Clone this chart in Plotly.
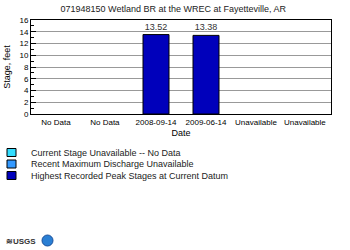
import plotly.graph_objects as go

categories = ["No Data", "No Data ", "2008-09-14", "2009-06-14", "Unavailable", "Unavailable "]
peak_values = [None, None, 13.52, 13.38, None, None]
peak_labels = ["", "", "13.52", "13.38", "", ""]
y_ticks = [0, 2, 4, 6, 8, 10, 12, 14, 16]
legend_names = ["Current Stage Unavailable -- No Data",
                "Recent Maximum Discharge Unavailable",
                "Highest Recorded Peak Stages at Current Datum"]
legend_colors = ["#33DDFF", "#3399FF", "#0000BB"]

FONT = "Liberation Sans, Arial, sans-serif"

fig = go.Figure()
fig.add_trace(go.Bar(
    x=categories, y=peak_values, text=peak_labels, textposition="outside",
    textfont=dict(size=9, color="#333333", family=FONT), cliponaxis=False,
    marker=dict(color="#0000BB", line=dict(color="black", width=1)),
    width=0.52, showlegend=False,
))

fig.update_layout(
    width=350, height=250,
    margin=dict(l=31, r=19, t=20, b=136),
    paper_bgcolor="white", plot_bgcolor="white",
    font=dict(family=FONT, size=8, color="black"),
    title=dict(text="071948150 Wetland BR at the WREC at Fayetteville, AR",
               x=0.495, xanchor="center", y=0.965, yanchor="middle",
               font=dict(size=9, family=FONT, color="#222222")),
    xaxis=dict(type="category", automargin=False, showline=True, linecolor="black", linewidth=1, mirror=True,
               ticks="", tickfont=dict(size=8), tickangle=0,
               title=dict(text="Date", font=dict(size=9), standoff=4)),
    yaxis=dict(range=[0, 16], automargin=False, tickvals=y_ticks, showgrid=True, gridcolor="#999999", gridwidth=1,
               showline=True, linecolor="black", linewidth=1, mirror=True,
               ticks="inside", ticklen=5, tickcolor="black",
               minor=dict(dtick=1, ticks="inside", ticklen=3, tickcolor="black"),
               tickfont=dict(size=8), title=dict(text="Stage, feet", font=dict(size=9), standoff=7)),
)

# legend drawn below the chart
row_y = [152.5, 164, 175.5]
for name, col, yy in zip(legend_names, legend_colors, row_y):
    fig.add_shape(type="rect", xref="paper", yref="paper",
                  x0=(7 - 31) / 300, x1=(16 - 31) / 300,
                  y0=(114 - (yy + 4)) / 94, y1=(114 - (yy - 4)) / 94,
                  fillcolor=col, line=dict(color="black", width=1))
    fig.add_annotation(text=name, xref="paper", yref="paper",
                       x=(29 - 31) / 300, y=(114 - yy) / 94, xanchor="left", yanchor="middle",
                       showarrow=False, font=dict(size=9, color="#222222", family=FONT))

# logos
fig.add_annotation(text="<b>≋USGS</b>", xref="paper", yref="paper",
                   x=(4 - 31) / 300, y=(114 - 241) / 94, xanchor="left", yanchor="middle",
                   showarrow=False, font=dict(size=8, color="#333333", family=FONT))
fig.add_shape(type="circle", xref="paper", yref="paper",
              x0=(42 - 31) / 300, x1=(53 - 31) / 300,
              y0=(114 - 246) / 94, y1=(114 - 235) / 94,
              fillcolor="#2a7fd4", line=dict(color="#1a4f9a", width=1))

fig.write_html("out.html")
